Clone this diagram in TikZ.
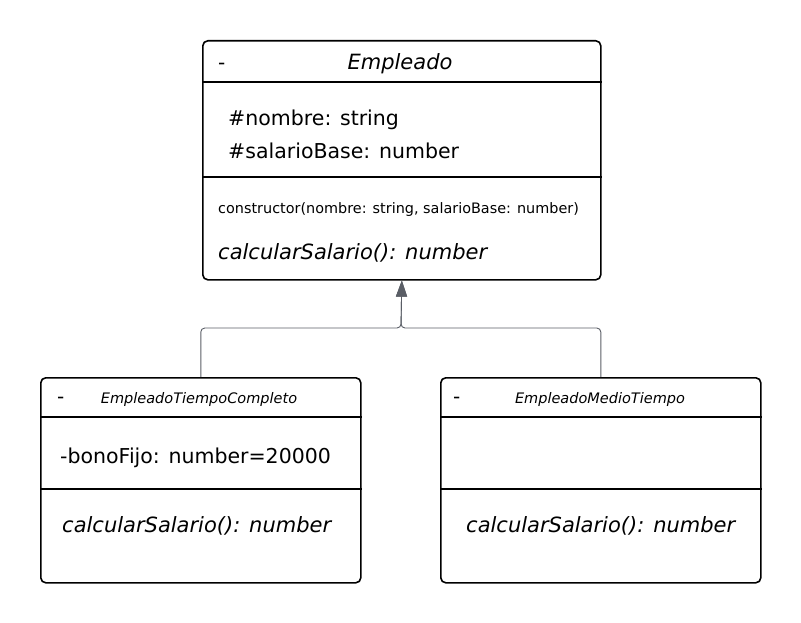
\documentclass[tikz,border=0pt]{standalone}
\usepackage{fontspec}
\setmainfont{DejaVu Sans}
\usepackage{tikz}
\usetikzlibrary{arrows.meta,positioning}
\definecolor{linea}{HTML}{5A5E66}
\definecolor{punta}{HTML}{3C4048}
\tikzset{
    %Define standard arrow tip
    >={Triangle[length=16pt,width=11pt]},
    %Define style for class boxes
    clase/.style={
           rectangle,
           rounded corners=5pt,
           draw=black, line width=1.6pt,
           anchor=north west,
           inner sep=0pt},
    % Define text styles
    titulo/.style={font=\fontsize{21}{24}\selectfont\itshape, anchor=base, inner sep=0pt},
    subtitulo/.style={font=\fontsize{14.5}{17}\selectfont\itshape, anchor=base, inner sep=0pt},
    guion/.style={font=\fontsize{20}{22}\selectfont, anchor=base west, inner sep=0pt},
    atributo/.style={font=\fontsize{20.5}{24}\selectfont, anchor=base west, inner sep=0pt},
    metodo/.style={font=\fontsize{21}{24}\selectfont\itshape, anchor=base west, inner sep=0pt},
    % Define inheritance arrow style
    herencia/.style={
           ->,
           draw=linea,
           line width=0.9pt,
           rounded corners=4pt},
    divisor/.style={line width=1.6pt}
}
\begin{document}
\begin{tikzpicture}[x=1pt,y=-1pt]
\useasboundingbox (0,0) rectangle (801,623);

% clases
\node[clase, minimum width=398pt, minimum height=239pt](empleado) at (202,40){};
\node[clase, minimum width=320pt, minimum height=205pt](completo) at (40,377){};
\node[clase, minimum width=320pt, minimum height=205pt](medio) at (440,377){};

% divisores
\draw[divisor] ([yshift=-42pt]empleado.north west) -- ([yshift=-42pt]empleado.north east);
\draw[divisor] ([yshift=-137pt]empleado.north west) -- ([yshift=-137pt]empleado.north east);
\foreach \c in {completo,medio}{
  \draw[divisor] ([yshift=-40pt]\c.north west) -- ([yshift=-40pt]\c.north east);
  \draw[divisor] ([yshift=-112pt]\c.north west) -- ([yshift=-112pt]\c.north east);
}

% textos de Empleado
\node[guion](e0) at (218,70){-};
\node[titulo](e1) at (400,70){Empleado};
\node[atributo](e2) at (228,126){\#nombre: string};
\node[atributo](e3) at (228,159){\#salarioBase: number};
\node[atributo, font=\fontsize{14.4}{17}\selectfont](e4) at (218,214){constructor(nombre: string, salarioBase: number)};
\node[metodo](e5) at (218,259){calcularSalario(): number};

% textos de EmpleadoTiempoCompleto
\node[guion](c0) at (57,403){-};
\node[subtitulo](c1) at (199,403){EmpleadoTiempoCompleto};
\node[atributo](c2) at (60,463){-bonoFijo: number=20000};
\node[metodo](c3) at (62,532){calcularSalario(): number};

% textos de EmpleadoMedioTiempo
\node[guion](m0) at (453,403){-};
\node[subtitulo](m1) at (600,403){EmpleadoMedioTiempo};
\node[metodo](m3) at (466,532){calcularSalario(): number};

% herencia
\coordinate (union) at (401,328);
\draw[herencia] (completo.north) |- (union) -- (empleado.south);
\draw[herencia] (medio.north) |- (union) -- (empleado.south);

\end{tikzpicture}
\end{document}
